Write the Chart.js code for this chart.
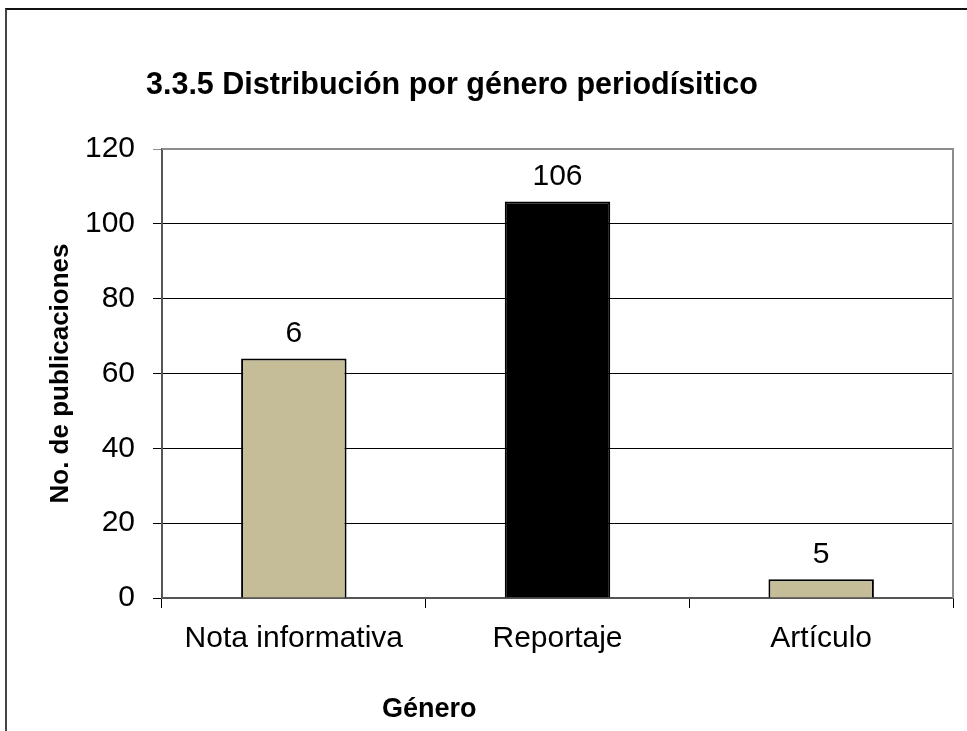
<!DOCTYPE html>
<html>
<head>
<meta charset="utf-8">
<title>Distribución por género periodísitico</title>
<script src="https://cdn.jsdelivr.net/npm/chart.js@4"></script>
<style>
    body { margin: 0; background: #fff; }
    #wrap { position: relative; width: 967px; height: 731px; }
    #frame {
        position: absolute; left: 5px; top: 8px; right: 0; bottom: 0;
        border-left: 2px solid #444; border-top: 2px solid #111;
    }
    #myChart { position: absolute; left: 0; top: 0; }
</style>
</head>
<body>
<div id="wrap">
    <div id="frame"></div>
    <canvas id="myChart" width="967" height="731"></canvas>
</div>
<script>
var categories = ["Nota informativa", "Reportaje", "Artículo"];
var counts = [64, 106, 5];
var countLabels = ["6", "106", "5"];
var barColors = ["#C4BD97", "#000000", "#C4BD97"];
var yMin = 0;
var yMax = 120;
var yStep = 20;

var chartTitle = "3.3.5 Distribución por género periodísitico";
var xTitle = "Género";
var yTitle = "No. de publicaciones";

var fontFamily = "'Liberation Sans', Arial, sans-serif";

// title, x title, plot border and the labels over the bars
var extras = {
    id: 'extras',
    beforeDatasetsDraw: function (chart) {
        var ctx = chart.ctx;
        var a = chart.chartArea;
        ctx.save();
        ctx.strokeStyle = '#8c8c8c';
        ctx.lineWidth = 2;
        ctx.beginPath();
        ctx.moveTo(a.left, a.top);
        ctx.lineTo(a.right, a.top);
        ctx.lineTo(a.right, a.bottom);
        ctx.stroke();
        ctx.restore();
    },
    afterDatasetsDraw: function (chart) {
        var ctx = chart.ctx;
        var meta = chart.getDatasetMeta(0);
        ctx.save();
        ctx.fillStyle = '#000';
        ctx.textAlign = 'center';
        ctx.textBaseline = 'middle';
        ctx.font = "30px " + fontFamily;
        meta.data.forEach(function (bar, i) {
            ctx.fillText(countLabels[i], bar.x, bar.y - 25);
        });

        ctx.textAlign = 'left';
        ctx.textBaseline = 'alphabetic';
        ctx.font = "bold 30.5px " + fontFamily;
        ctx.fillText(chartTitle, 146, 94);

        ctx.font = "bold 27px " + fontFamily;
        ctx.fillText(xTitle, 382, 717);
        ctx.restore();
    }
};

new Chart("myChart", {
    type: "bar",
    data: {
        labels: categories,
        datasets: [{
            data: counts,
            backgroundColor: barColors,
            borderColor: "#000",
            borderWidth: 2,
            categoryPercentage: 1,
            barPercentage: 0.4
        }]
    },
    options: {
        responsive: false,
        animation: false,
        layout: { padding: { top: 149, right: 14, bottom: 0, left: 8 } },
        plugins: {
            legend: { display: false },
            tooltip: { enabled: false }
        },
        scales: {
            x: {
                afterFit: function (scale) { scale.height = 133; },
                grid: {
                    drawOnChartArea: false,
                    color: "#000",
                    tickLength: 10
                },
                border: { color: "#555", width: 2 },
                ticks: {
                    color: "#000",
                    padding: 13,
                    font: { family: fontFamily, size: 30 }
                }
            },
            y: {
                min: yMin,
                max: yMax,
                afterFit: function (scale) { scale.width = 154; },
                grid: {
                    color: function (c) { return c.tick && c.tick.value === yMax ? "#8c8c8c" : "#000"; },
                    tickLength: 9
                },
                border: { color: "#555", width: 2 },
                ticks: {
                    stepSize: yStep,
                    color: "#000",
                    padding: 18,
                    font: { family: fontFamily, size: 30 }
                },
                title: {
                    display: true,
                    text: yTitle,
                    color: "#000",
                    padding: { top: 37, bottom: 0 },
                    font: { family: fontFamily, size: 26, weight: "bold" }
                }
            }
        }
    },
    plugins: [extras]
});
</script>
</body>
</html>
